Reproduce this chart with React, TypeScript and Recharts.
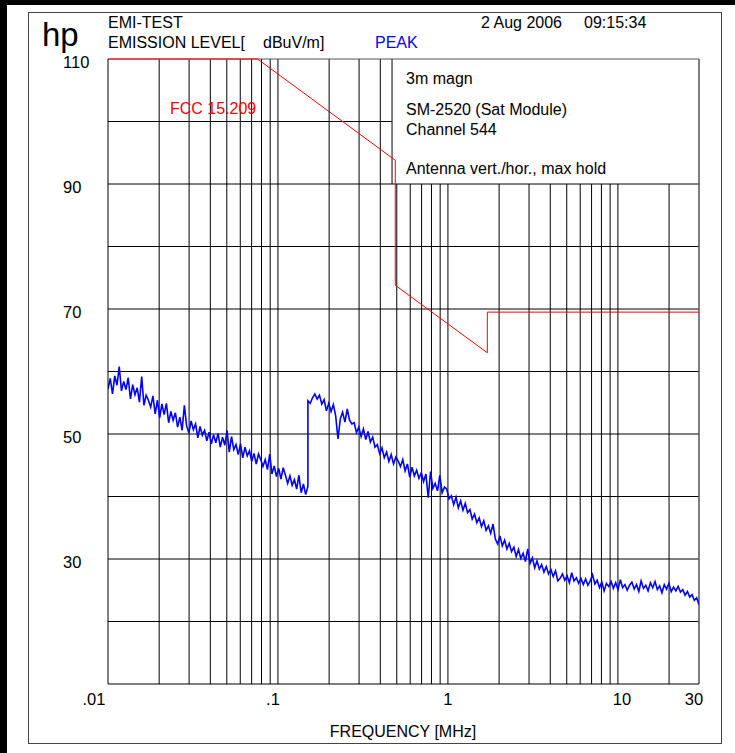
import { LineChart, Line, XAxis, YAxis, ReferenceLine } from "recharts"

const FONT = '"Liberation Sans", Arial, sans-serif'

// peak trace, sweep 1: 10 kHz .. 150 kHz  (dBuV/m)
const SWEEP_A_START = 0.01
const SWEEP_A_STOP = 0.15
const LEVELS_A = [
  57.2, 58.9, 56.4, 59.3, 57.8, 60.8, 56.9, 58.4, 57.1, 59.0,
  55.6, 57.9, 56.3, 57.4, 55.1, 59.2, 54.6, 56.2, 55.4, 54.3,
  56.1, 53.2, 55.4, 52.6, 54.8, 53.1, 54.9, 51.8, 53.6, 52.2,
  53.4, 51.1, 52.7, 50.6, 54.6, 51.3, 50.2, 52.1, 50.7, 51.6,
  49.4, 51.2, 49.8, 50.6, 48.9, 50.3, 48.4, 49.9, 48.6, 50.1,
  47.9, 49.5, 48.2, 50.6, 47.1, 49.6, 47.5, 48.3, 46.7, 48.4,
  46.2, 47.9, 46.5, 47.3, 45.6, 46.9, 45.2, 46.8, 45.9, 44.8,
  45.9, 44.3, 46.8, 43.6, 44.9, 43.2, 44.5, 42.8, 44.6, 43.4,
  42.1, 43.3, 41.8, 42.7, 41.2, 43.4, 40.6, 42.0, 40.3, 41.6,
]

// peak trace, sweep 2: 150 kHz .. 30 MHz
const SWEEP_B_START = 0.15
const SWEEP_B_STOP = 30
const LEVELS_B = [
  55.3, 54.9, 55.8, 56.4, 55.6, 56.2, 54.8, 55.5, 53.7, 54.9,
  53.6, 54.7, 52.9, 49.2, 52.4, 53.5, 51.9, 54.0, 52.2, 51.6,
  51.8, 50.2, 51.1, 49.6, 50.8, 49.1, 50.4, 48.7, 49.5, 47.9,
  48.3, 46.9, 47.8, 46.2, 47.1, 45.6, 46.7, 45.2, 46.3, 45.7,
  44.8, 45.9, 44.1, 45.2, 43.1, 44.7, 43.3, 44.2, 42.9, 43.8,
  42.4, 43.6, 39.8, 44.0, 41.3, 42.1, 40.9, 43.4, 40.6, 41.5,
  41.2, 39.6, 40.1, 38.7, 39.9, 38.2, 39.3, 37.8, 38.9, 37.4,
  37.9, 36.4, 37.2, 35.8, 36.6, 35.2, 36.1, 34.6, 35.3, 34.1,
  35.6, 33.2, 32.4, 33.7, 32.1, 33.0, 31.6, 32.5, 31.2, 31.9,
  30.4, 31.5, 30.1, 30.9, 29.6, 31.6, 29.3, 30.2, 28.6, 29.7,
  28.4, 29.1, 27.9, 28.8, 27.6, 28.3, 27.2, 28.1, 26.5, 26.9,
  27.6, 26.6, 27.3, 26.2, 27.8, 26.5, 27.0, 26.1, 26.9, 25.9,
  26.8, 25.8, 26.5, 27.5, 26.0, 26.6, 25.4, 26.3, 24.9, 26.1,
  25.6, 26.4, 25.3, 26.2, 25.1, 26.7, 25.4, 25.9, 25.0, 25.8,
  26.3, 25.2, 25.9, 24.8, 26.5, 25.3, 25.8, 24.9, 26.2, 25.4,
  26.4, 25.1, 25.7, 24.6, 25.9, 25.2, 26.1, 24.8, 25.5, 24.9,
  25.6, 24.7, 25.1, 24.2, 24.8, 23.9, 24.3, 23.4, 23.8, 22.7,
]

// FCC 15.209 limit at 3 m
const LIMIT_FREQ = [0.01, 0.0758, 0.49, 0.49, 1.705, 1.705, 30]
const LIMIT_LEVEL = [110, 110, 93.8, 73.8, 63.0, 69.5, 69.5]

const X_TICKS = [0.01, 0.1, 1, 10, 30]
const X_TICK_LABELS = [".01", ".1", "1", "10", "30"]
const Y_TICKS = [10, 20, 30, 40, 50, 60, 70, 80, 90, 100, 110]
const Y_LABELED = [30, 50, 70, 90, 110]
const GRID_FREQS = [
  0.02, 0.03, 0.04, 0.05, 0.06, 0.07, 0.08, 0.09, 0.1,
  0.2, 0.3, 0.4, 0.5, 0.6, 0.7, 0.8, 0.9, 1,
  2, 3, 4, 5, 6, 7, 8, 9, 10, 20,
]
const GRID_LEVELS = [20, 30, 40, 50, 60, 70, 80, 100]
const BOX_FREQ = 0.469
const BOX_LEVEL = 90

function sweep(start: number, stop: number, levels: number[]) {
  const n = levels.length
  return levels.map((level, i) => ({ f: start * Math.pow(stop / start, i / (n - 1)), level }))
}

const trace = [
  ...sweep(SWEEP_A_START, SWEEP_A_STOP, LEVELS_A),
  ...sweep(SWEEP_B_START, SWEEP_B_STOP, LEVELS_B),
]
const limit = LIMIT_FREQ.map((f, i) => ({ f, level: LIMIT_LEVEL[i] }))

function YTick(props: any) {
  const { y, payload } = props
  if (!Y_LABELED.includes(payload.value)) return <g />
  return (
    <text x={63} y={y + 9} fontSize={16.5} fontFamily={FONT} fill="#000">
      {payload.value}
    </text>
  )
}

// the old plotter doesn't center the labels exactly on the grid lines
const X_LABEL_SHIFT = [-14, -5, 0, 4, -5]

function XTick(props: any) {
  const { x, y, payload } = props
  const idx = X_TICKS.indexOf(payload.value)
  return (
    <text x={x + X_LABEL_SHIFT[idx]} y={y + 19} textAnchor="middle" fontSize={16.5} fontFamily={FONT} fill="#000">
      {X_TICK_LABELS[idx]}
    </text>
  )
}

const line = "#000"

export default function App() {
  return (
    <div style={{ position: "relative", width: 735, height: 753, background: "#fff", overflow: "hidden" }}>
      <style>{`body{margin:0}`}</style>
      <div style={{ position: "absolute", left: 0, top: 0, width: 735, height: 5, background: "#000" }} />
      <div style={{ position: "absolute", left: 0, top: 0, width: 7, height: 753, background: "#000" }} />
      <div style={{ position: "absolute", left: 28, top: 12, width: 692, height: 730, border: "1px solid #444" }} />

      <div style={{ position: "absolute", left: 0, top: 0 }}>
        <LineChart width={735} height={753} margin={{ top: 59, right: 36, bottom: 39, left: 48 }}>
          <XAxis
            dataKey="f"
            type="number"
            scale="log"
            domain={[0.01, 30]}
            allowDataOverflow
            ticks={X_TICKS}
            interval={0}
            tickSize={0}
            tickLine={false}
            height={30}
            axisLine={{ stroke: line }}
            tick={XTick}
          />
          <YAxis
            type="number"
            domain={[10, 110]}
            ticks={Y_TICKS}
            interval={0}
            tickSize={0}
            tickLine={false}
            width={60}
            axisLine={{ stroke: line }}
            tick={YTick}
          />
          {GRID_FREQS.map((f) => (
            <ReferenceLine
              key={"v" + f}
              segment={[{ x: f, y: 10 }, { x: f, y: f > BOX_FREQ ? BOX_LEVEL : 110 }]}
              stroke={line}
              strokeWidth={1}
            />
          ))}
          {GRID_LEVELS.map((lv) => (
            <ReferenceLine
              key={"h" + lv}
              segment={[{ x: 0.01, y: lv }, { x: lv > BOX_LEVEL ? BOX_FREQ : 30, y: lv }]}
              stroke={line}
              strokeWidth={1}
            />
          ))}
          <ReferenceLine y={BOX_LEVEL} stroke={line} />
          <ReferenceLine segment={[{ x: BOX_FREQ, y: BOX_LEVEL }, { x: BOX_FREQ, y: 110 }]} stroke={line} />
          <ReferenceLine y={110} stroke="#555" />
          <ReferenceLine x={30} stroke="#555" strokeWidth={1.5} />
          <Line
            data={limit}
            dataKey="level"
            type="linear"
            stroke="#ff0000"
            strokeWidth={1}
            dot={false}
            isAnimationActive={false}
          />
          <Line
            data={trace}
            dataKey="level"
            type="linear"
            stroke="#0000ff"
            strokeWidth={1.6}
            dot={false}
            isAnimationActive={false}
          />
        </LineChart>
      </div>

      <svg
        width={735}
        height={753}
        style={{ position: "absolute", left: 0, top: 0, pointerEvents: "none" }}
        fontFamily={FONT}
        fontSize={16}
      >
        <text x={42} y={46} fontSize={33}>hp</text>
        <text x={108} y={28}>EMI-TEST</text>
        <text x={108} y={48}>EMISSION LEVEL[</text>
        <text x={263} y={48}>dBuV/m]</text>
        <text x={375} y={48} fill="#0000ff">PEAK</text>
        <text x={481} y={28}>2 Aug 2006</text>
        <text x={584} y={28}>09:15:34</text>
        <text x={406} y={84}>3m magn</text>
        <text x={406} y={115}>SM-2520 (Sat Module)</text>
        <text x={406} y={135}>Channel 544</text>
        <text x={406} y={174}>Antenna vert./hor., max hold</text>
        <text x={170} y={114} fill="#ff0000">FCC 15.209</text>
        <text x={403} y={737} textAnchor="middle">FREQUENCY [MHz]</text>
      </svg>
    </div>
  )
}
